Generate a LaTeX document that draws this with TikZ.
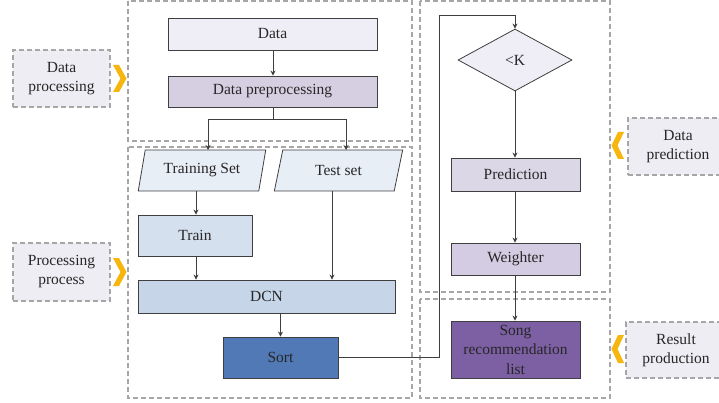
\documentclass[tikz,border=0pt]{standalone}
\usepackage{fontspec}
\setmainfont{Liberation Serif}
\newfontfamily\labelfont{Liberation Serif}
\usetikzlibrary{shapes.geometric,arrows.meta}
\definecolor{framegray}{HTML}{A6A6A6}
\definecolor{edgegray}{HTML}{3F3F3F}
\definecolor{tagfill}{HTML}{EEEDF3}
\definecolor{chev}{HTML}{F6B60E}
\definecolor{palelav}{HTML}{EFEDF5}
\definecolor{lav}{HTML}{D6CFE2}
\definecolor{lavpred}{HTML}{DCD7E7}
\definecolor{lavweigh}{HTML}{D4CCE2}
\definecolor{deeppurple}{HTML}{7D60A3}
\definecolor{paleblue}{HTML}{E8EEF6}
\definecolor{lightblue}{HTML}{D5E0EE}
\definecolor{dcnblue}{HTML}{C6D5E8}
\definecolor{sortblue}{HTML}{5079B5}
\tikzset{
  frame/.style={draw=framegray, line width=1.3pt, dash pattern=on 5pt off 3pt},
  tag/.style={frame, fill=tagfill, align=center, inner sep=0pt},
  box/.style={draw=edgegray, line width=0.8pt, align=center, inner sep=0pt},
  flow/.style={draw=edgegray, line width=0.8pt, -{Stealth[length=5pt,width=5pt]}},
  link/.style={draw=edgegray, line width=0.8pt},
  chevron/.style={fill=chev, draw=none}
}
\begin{document}
\begin{tikzpicture}[x=1pt, y=-1pt, font=\labelfont\fontsize{15.5}{19}\selectfont, text=black!85]
\clip (0,0) rectangle (719,403);
\fill[white] (0,0) rectangle (719,403);

% stage frames
\draw[frame] (128,1) rectangle (412,141);
\draw[frame] (128,147) rectangle (412,398);
\draw[frame] (420,1) rectangle (610,292);
\draw[frame] (420,299) rectangle (610,398);

% stage tags
\node[tag, minimum width=97pt, minimum height=57pt] (tagdp) at (61.5,78.5) {Data\\processing};
\node[tag, minimum width=97pt, minimum height=58pt] (tagpp) at (61.5,272) {Processing\\process};
\node[tag, minimum width=100pt, minimum height=57pt] (tagpr) at (678,146.5) {Data\\prediction};
\node[tag, minimum width=100pt, minimum height=56pt] (tagrp) at (676,350) {Result\\production};

% chevrons pointing at the stages
\fill[chevron] (113,65) -- (119,65) -- (126.5,78.5) -- (119,92) -- (113,92) -- (120.5,78.5) -- cycle;
\fill[chevron] (113,258) -- (119,258) -- (126.5,272) -- (119,286) -- (113,286) -- (120.5,272) -- cycle;
\fill[chevron] (624,132) -- (618,132) -- (611.5,145.5) -- (618,159) -- (624,159) -- (617.5,145.5) -- cycle;
\fill[chevron] (624,335) -- (618,335) -- (611.5,349) -- (618,363) -- (624,363) -- (617.5,349) -- cycle;

% data processing
\node[box, fill=palelav, minimum width=209pt, minimum height=32pt] (data) at (272.5,34) {Data};
\node[box, fill=lav, minimum width=209pt, minimum height=31pt] (prep) at (272.5,91.5) {Data preprocessing};

% data sets
\node[box, fill=paleblue, trapezium, trapezium stretches=true, trapezium left angle=71, trapezium right angle=109,
      minimum width=128pt, minimum height=41pt] (trainset) at (202,170.5) {Training Set};
\node[box, fill=paleblue, trapezium, trapezium stretches=true, trapezium left angle=71, trapezium right angle=109,
      minimum width=129pt, minimum height=41pt] (testset) at (338.5,170.5) {Test set};

% model
\node[box, fill=lightblue, minimum width=114pt, minimum height=41pt] (train) at (195,235.5) {Train};
\node[box, fill=dcnblue, minimum width=257pt, minimum height=33pt] (dcn) at (266.5,296.5) {DCN};
\node[box, fill=sortblue, minimum width=115pt, minimum height=41pt] (sort) at (280.5,357.5) {Sort};

% prediction
\node[box, fill=palelav, diamond, aspect=1.84, minimum width=114pt, minimum height=62pt] (lessk) at (515,60) {<K};
\node[box, fill=lavpred, minimum width=129pt, minimum height=33pt] (pred) at (515.5,174.5) {Prediction};
\node[box, fill=lavweigh, minimum width=129pt, minimum height=32pt] (weigh) at (515.5,259) {Weighter};
\node[box, fill=deeppurple, minimum width=129pt, minimum height=57pt, text width=125pt,
      font=\labelfont\fontsize{15.5}{19.5}\selectfont] (song) at (515.5,349.5) {Song\\recommendation\\list};

% connectors
\coordinate (split) at (273,119);
\path[flow] (data.south -| split) -- (prep.north -| split);
\path[link] (prep.south -| split) -- (split);
\path[flow] (split) -| (208,150);
\path[flow] (split) -| (346,150);
\path[flow] (196,191) -- (train.north -| 196,0);
\path[flow] (train.south -| 196,0) -- (dcn.north -| 196,0);
\path[flow] (332,191) -- (dcn.north -| 332,0);
\path[flow] (dcn.south -| sort.north) -- (sort.north);
\coordinate (bend) at (439,357.5);
\coordinate (loop) at (439,15);
\path[flow] (sort.east) -- (bend) -- (loop) -| (lessk.north);
\path[flow] (lessk.south) -- (pred.north -| lessk.south);
\path[flow] (pred.south -| lessk.south) -- (weigh.north -| lessk.south);
\path[flow] (weigh.south -| lessk.south) -- (song.north -| lessk.south);
\end{tikzpicture}
\end{document}
